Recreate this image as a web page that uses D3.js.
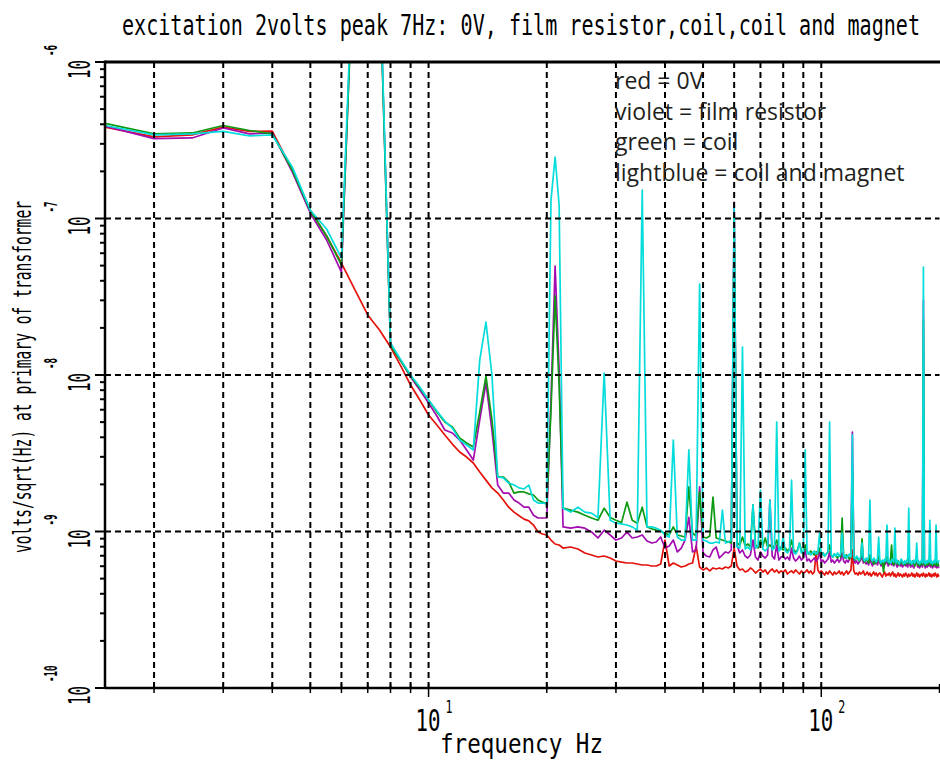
<!DOCTYPE html>
<html lang="en">
<head>
<meta charset="UTF-8">
<title>excitation 2volts peak 7Hz</title>
<style>
  body { margin: 0; padding: 0; overflow: hidden; background: #fff; }
  svg { display: block; }
</style>
</head>
<body>
<script src="https://d3js.org/d3.v7.min.js"></script>
<script>
// frequency bins (Hz): 0.5 Hz steps below 22 Hz, 1 Hz steps above
const freqHz = d3.range(1.5, 22, 0.5).concat(d3.range(22, 201, 1));

// volts/sqrt(Hz), one value per frequency bin
const red0V = [
  3.84e-7, 3.32e-7, 3.42e-7, 3.84e-7, 3.60e-7, 3.62e-7, 2.04e-7, 1.13e-7, 7.73e-8, 5.19e-8,
  3.49e-8, 2.42e-8, 1.94e-8, 1.51e-8, 1.14e-8, 8.63e-9, 6.92e-9, 5.55e-9,
  4.79e-9, 4.14e-9, 3.62e-9, 3.22e-9, 2.99e-9, 2.74e-9, 2.40e-9, 2.13e-9,
  1.90e-9, 1.76e-9, 1.59e-9, 1.43e-9, 1.33e-9, 1.26e-9, 1.20e-9, 1.17e-9,
  1.10e-9, 9.93e-10, 9.64e-10, 9.50e-10, 8.82e-10, 8.32e-10, 8.20e-10,
  // 22-60 Hz
  7.84e-10, 7.96e-10, 7.73e-10, 7.29e-10, 7.08e-10, 6.87e-10, 6.97e-10, 6.77e-10, 6.48e-10,
  6.38e-10, 6.29e-10, 6.29e-10, 6.20e-10, 6.11e-10, 6.11e-10, 6.02e-10, 6.02e-10, 6.20e-10, 8.82e-10,
  6.02e-10, 6.29e-10, 6.11e-10, 5.93e-10, 6.02e-10, 6.20e-10, 6.29e-10, 8.08e-10, 5.93e-10, 5.68e-10,
  5.85e-10, 5.60e-10, 5.85e-10, 5.76e-10, 5.85e-10, 5.76e-10, 5.93e-10, 5.85e-10, 6.02e-10, 7.84e-10,
  // 61-200 Hz
  6.02e-10, 5.68e-10, 5.76e-10, 5.51e-10, 5.60e-10, 5.85e-10, 5.68e-10, 5.43e-10, 5.60e-10, 5.76e-10,
  5.51e-10, 5.68e-10, 5.35e-10, 5.60e-10, 5.76e-10, 5.51e-10, 5.68e-10, 5.43e-10, 5.60e-10, 5.51e-10,
  5.68e-10, 5.35e-10, 5.51e-10, 5.60e-10, 5.43e-10, 5.68e-10, 5.51e-10, 5.35e-10, 5.60e-10, 5.43e-10,
  5.51e-10, 5.68e-10, 5.43e-10, 5.60e-10, 5.35e-10, 5.51e-10, 7.40e-10, 5.68e-10, 5.43e-10, 5.60e-10,
  5.43e-10, 5.27e-10, 5.51e-10, 5.35e-10, 5.60e-10, 5.43e-10, 5.27e-10, 5.51e-10, 5.35e-10, 5.43e-10,
  5.60e-10, 5.35e-10, 5.51e-10, 5.27e-10, 5.43e-10, 5.60e-10, 5.35e-10, 5.51e-10, 5.68e-10, 7.62e-10,
  5.60e-10, 5.35e-10, 5.43e-10, 5.27e-10, 5.51e-10, 5.35e-10, 5.43e-10, 5.60e-10, 5.27e-10, 5.35e-10,
  5.51e-10, 5.27e-10, 5.43e-10, 5.19e-10, 5.35e-10, 5.51e-10, 5.27e-10, 5.43e-10, 5.19e-10, 5.35e-10,
  5.43e-10, 5.27e-10, 5.12e-10, 5.35e-10, 5.51e-10, 5.19e-10, 5.35e-10, 5.27e-10, 5.43e-10, 5.19e-10,
  5.35e-10, 5.51e-10, 5.19e-10, 5.35e-10, 5.12e-10, 5.27e-10, 5.43e-10, 5.19e-10, 5.35e-10, 5.27e-10,
  5.12e-10, 5.35e-10, 5.19e-10, 5.43e-10, 5.27e-10, 5.12e-10, 5.35e-10, 5.19e-10, 5.27e-10, 5.43e-10,
  5.19e-10, 5.35e-10, 5.12e-10, 5.27e-10, 5.43e-10, 5.19e-10, 5.35e-10, 5.12e-10, 5.27e-10, 5.35e-10,
  5.19e-10, 5.43e-10, 5.27e-10, 5.12e-10, 5.35e-10, 5.19e-10, 5.27e-10, 5.43e-10, 5.19e-10, 5.35e-10,
  5.12e-10, 5.27e-10, 5.35e-10, 5.19e-10, 5.43e-10, 5.27e-10, 5.12e-10, 5.35e-10, 5.19e-10, 5.27e-10
];

const violetFilmResistor = [
  3.90e-7, 3.24e-7, 3.27e-7, 3.79e-7, 3.47e-7, 3.52e-7, 1.98e-7, 1.08e-7, 7.29e-8, 4.55e-8,
  9.0e-6, 2.5e-5, 4.0e-6, 1.55e-8, 1.23e-8, 9.71e-9, 8.02e-9, 6.62e-9,
  5.47e-9, 4.45e-9, 4.26e-9, 3.84e-9, 3.32e-9, 2.86e-9, 5.16e-9, 8.89e-9,
  4.45e-9, 1.98e-9, 1.76e-9, 1.76e-9, 1.59e-9, 1.52e-9, 1.43e-9, 1.43e-9,
  1.27e-9, 1.22e-9, 1.22e-9, 1.22e-9, 6.92e-9, 4.97e-8, 1.08e-8,
  // 22-60 Hz
  1.07e-9, 1.05e-9, 1.07e-9, 1.05e-9, 9.93e-10, 9.09e-10, 1.02e-9, 9.50e-10, 8.82e-10,
  9.09e-10, 9.93e-10, 9.09e-10, 9.22e-10, 9.50e-10, 8.70e-10, 8.44e-10, 8.57e-10, 9.22e-10, 7.84e-10,
  8.08e-10, 8.82e-10, 7.40e-10, 7.84e-10, 8.82e-10, 1.23e-9, 7.40e-10, 7.62e-10, 1.93e-9, 7.29e-10,
  6.97e-10, 6.87e-10, 7.62e-10, 7.96e-10, 6.77e-10, 7.08e-10, 7.40e-10, 7.29e-10, 7.62e-10, 1.27e-7,
  // 61-200 Hz
  8.20e-10, 7.29e-10, 7.62e-10, 6.97e-10, 6.77e-10, 7.08e-10, 8.82e-10, 6.87e-10, 6.57e-10, 7.40e-10,
  6.97e-10, 6.77e-10, 7.08e-10, 1.59e-9, 6.97e-10, 6.67e-10, 8.20e-10, 6.57e-10, 6.87e-10, 6.97e-10,
  6.67e-10, 6.87e-10, 6.57e-10, 7.84e-10, 6.77e-10, 6.48e-10, 6.67e-10, 6.97e-10, 6.57e-10, 6.77e-10,
  7.62e-10, 6.48e-10, 6.67e-10, 6.38e-10, 6.57e-10, 6.77e-10, 6.48e-10, 6.67e-10, 7.40e-10, 6.38e-10,
  6.57e-10, 6.29e-10, 6.48e-10, 6.67e-10, 7.40e-10, 6.38e-10, 6.57e-10, 6.29e-10, 6.48e-10, 6.67e-10,
  6.38e-10, 6.57e-10, 7.29e-10, 6.48e-10, 6.29e-10, 6.57e-10, 6.38e-10, 6.67e-10, 6.97e-10, 4.32e-9,
  6.57e-10, 6.29e-10, 6.48e-10, 6.20e-10, 6.38e-10, 6.57e-10, 6.97e-10, 6.29e-10, 6.48e-10, 6.20e-10,
  6.38e-10, 6.11e-10, 6.77e-10, 6.29e-10, 6.02e-10, 6.48e-10, 6.20e-10, 6.38e-10, 6.11e-10, 6.57e-10,
  6.29e-10, 6.02e-10, 6.20e-10, 6.38e-10, 6.11e-10, 6.29e-10, 6.57e-10, 6.02e-10, 6.20e-10, 6.38e-10,
  6.11e-10, 6.29e-10, 6.02e-10, 6.57e-10, 6.20e-10, 5.93e-10, 6.11e-10, 6.29e-10, 6.02e-10, 6.20e-10,
  5.93e-10, 6.11e-10, 6.29e-10, 6.02e-10, 6.20e-10, 5.93e-10, 6.57e-10, 6.11e-10, 5.93e-10, 6.20e-10,
  6.02e-10, 5.85e-10, 6.11e-10, 6.29e-10, 6.38e-10, 5.93e-10, 6.11e-10, 5.85e-10, 6.02e-10, 6.20e-10,
  5.93e-10, 3.01e-8, 6.11e-10, 5.85e-10, 6.02e-10, 5.93e-10, 6.20e-10, 6.02e-10, 6.57e-10, 5.93e-10,
  6.11e-10, 5.85e-10, 6.02e-10, 6.20e-10, 5.93e-10, 6.38e-10, 5.85e-10, 6.02e-10, 5.93e-10, 5.85e-10
];

const greenCoil = [
  4.05e-7, 3.47e-7, 3.52e-7, 3.93e-7, 3.65e-7, 3.47e-7, 2.04e-7, 1.12e-7, 7.73e-8, 5.04e-8,
  8.0e-6, 2.2e-5, 3.8e-6, 1.55e-8, 1.23e-8, 9.85e-9, 8.26e-9, 6.92e-9,
  5.80e-9, 5.01e-9, 4.65e-9, 3.96e-9, 3.68e-9, 3.47e-9, 5.80e-9, 9.85e-9,
  5.16e-9, 2.23e-9, 2.23e-9, 2.07e-9, 1.76e-9, 1.79e-9, 1.79e-9, 1.74e-9,
  1.71e-9, 1.59e-9, 1.54e-9, 1.50e-9, 5.97e-9, 3.20e-8, 8.63e-9,
  // 22-60 Hz
  1.41e-9, 1.37e-9, 1.33e-9, 1.27e-9, 1.22e-9, 1.18e-9, 1.41e-9, 1.23e-9, 1.18e-9,
  1.14e-9, 1.54e-9, 1.18e-9, 1.13e-9, 1.43e-9, 1.07e-9, 1.04e-9, 1.02e-9, 1.00e-9, 9.78e-10,
  9.50e-10, 1.07e-9, 9.50e-10, 9.36e-10, 9.22e-10, 1.93e-9, 9.78e-10, 9.36e-10, 1.79e-9, 9.22e-10,
  9.09e-10, 9.36e-10, 1.66e-9, 9.09e-10, 8.96e-10, 8.82e-10, 8.70e-10, 8.57e-10, 8.44e-10, 1.05e-7,
  // 61-200 Hz
  8.44e-10, 8.20e-10, 9.22e-10, 8.08e-10, 8.32e-10, 7.96e-10, 1.48e-9, 8.20e-10, 7.84e-10, 8.82e-10,
  8.08e-10, 9.09e-10, 7.96e-10, 8.20e-10, 7.84e-10, 8.08e-10, 8.82e-10, 7.73e-10, 7.96e-10, 7.62e-10,
  7.84e-10, 7.51e-10, 7.73e-10, 8.82e-10, 7.62e-10, 7.40e-10, 7.62e-10, 8.44e-10, 7.51e-10, 7.29e-10,
  8.20e-10, 7.40e-10, 7.18e-10, 7.51e-10, 7.29e-10, 7.08e-10, 7.40e-10, 7.18e-10, 7.84e-10, 7.08e-10,
  7.29e-10, 6.97e-10, 7.18e-10, 7.40e-10, 8.20e-10, 7.08e-10, 6.87e-10, 7.18e-10, 6.97e-10, 6.77e-10,
  7.08e-10, 6.87e-10, 1.22e-9, 6.97e-10, 6.77e-10, 7.08e-10, 6.87e-10, 6.67e-10, 6.97e-10, 2.47e-9,
  6.77e-10, 6.57e-10, 6.87e-10, 6.67e-10, 6.48e-10, 6.77e-10, 8.96e-10, 6.57e-10, 6.38e-10, 6.67e-10,
  6.48e-10, 6.29e-10, 7.08e-10, 6.57e-10, 6.38e-10, 6.20e-10, 6.48e-10, 6.29e-10, 6.57e-10, 6.97e-10,
  6.38e-10, 6.20e-10, 6.48e-10, 5.51e-10, 6.29e-10, 6.48e-10, 6.97e-10, 6.38e-10, 6.20e-10, 6.48e-10,
  8.20e-10, 6.29e-10, 6.11e-10, 6.77e-10, 6.38e-10, 6.20e-10, 6.48e-10, 6.11e-10, 6.29e-10, 6.57e-10,
  6.20e-10, 6.38e-10, 6.11e-10, 6.29e-10, 6.48e-10, 6.20e-10, 6.77e-10, 6.38e-10, 6.11e-10, 6.29e-10,
  6.48e-10, 6.20e-10, 6.02e-10, 6.38e-10, 7.08e-10, 6.11e-10, 6.29e-10, 6.02e-10, 6.20e-10, 6.38e-10,
  6.11e-10, 2.25e-8, 6.29e-10, 6.02e-10, 6.20e-10, 6.38e-10, 6.11e-10, 6.29e-10, 6.97e-10, 6.11e-10,
  6.29e-10, 6.02e-10, 6.20e-10, 6.38e-10, 6.11e-10, 6.77e-10, 6.02e-10, 6.29e-10, 6.11e-10, 6.02e-10
];

const cyanCoilMagnet = [
  3.93e-7, 3.42e-7, 3.47e-7, 3.60e-7, 3.37e-7, 3.42e-7, 2.13e-7, 1.13e-7, 8.57e-8, 5.59e-8,
  1.0e-5, 3.0e-5, 4.5e-6, 1.60e-8, 1.25e-8, 1.00e-8, 8.38e-9, 6.92e-9,
  5.89e-9, 5.08e-9, 4.58e-9, 3.84e-9, 3.57e-9, 3.32e-9, 1.25e-8, 2.18e-8,
  1.00e-8, 2.23e-9, 2.20e-9, 2.04e-9, 1.98e-9, 1.90e-9, 1.87e-9, 1.98e-9,
  1.59e-9, 1.52e-9, 1.52e-9, 1.50e-9, 1.31e-7, 2.47e-7, 1.22e-7,
  // 22-60 Hz
  1.41e-9, 1.33e-9, 1.43e-9, 1.33e-9, 1.31e-9, 1.23e-9, 1.03e-8, 1.18e-9, 1.13e-9,
  1.12e-9, 1.10e-9, 1.07e-9, 1.02e-9, 1.52e-7, 1.07e-9, 1.07e-9, 1.05e-9, 1.02e-9, 9.50e-10,
  9.22e-10, 3.84e-9, 9.22e-10, 8.82e-10, 8.82e-10, 3.32e-9, 8.82e-10, 8.82e-10, 3.81e-8, 8.82e-10,
  8.70e-10, 8.44e-10, 8.44e-10, 8.57e-10, 8.44e-10, 1.37e-9, 8.44e-10, 8.57e-10, 8.82e-10, 1.18e-7,
  // 61-200 Hz
  7.96e-10, 7.84e-10, 1.51e-8, 7.73e-10, 7.96e-10, 7.62e-10, 1.48e-9, 7.84e-10, 8.08e-10, 1.84e-9,
  7.73e-10, 7.51e-10, 7.84e-10, 1.59e-9, 7.62e-10, 7.84e-10, 5.01e-9, 7.51e-10, 7.73e-10, 9.22e-10,
  7.51e-10, 7.29e-10, 7.62e-10, 2.13e-9, 7.40e-10, 7.18e-10, 7.51e-10, 8.44e-10, 7.29e-10, 7.40e-10,
  3.32e-9, 7.18e-10, 7.40e-10, 7.08e-10, 7.29e-10, 7.51e-10, 7.18e-10, 7.40e-10, 9.78e-10, 7.08e-10,
  7.29e-10, 6.97e-10, 7.18e-10, 7.40e-10, 5.01e-9, 7.08e-10, 6.87e-10, 7.18e-10, 6.97e-10, 7.29e-10,
  6.97e-10, 7.18e-10, 9.78e-10, 6.87e-10, 7.08e-10, 6.77e-10, 6.97e-10, 7.18e-10, 6.87e-10, 4.14e-9,
  6.87e-10, 6.67e-10, 6.97e-10, 6.77e-10, 6.57e-10, 6.87e-10, 8.44e-10, 6.67e-10, 6.48e-10, 6.77e-10,
  6.57e-10, 6.87e-10, 1.59e-9, 6.67e-10, 6.48e-10, 6.77e-10, 6.57e-10, 6.38e-10, 6.67e-10, 9.22e-10,
  6.48e-10, 6.29e-10, 6.57e-10, 6.38e-10, 6.67e-10, 6.48e-10, 1.10e-9, 6.38e-10, 6.57e-10, 6.29e-10,
  6.48e-10, 6.67e-10, 6.38e-10, 1.05e-9, 6.29e-10, 6.57e-10, 6.38e-10, 6.20e-10, 6.48e-10, 6.67e-10,
  6.38e-10, 6.20e-10, 6.48e-10, 6.29e-10, 6.57e-10, 6.38e-10, 1.41e-9, 6.29e-10, 6.48e-10, 6.20e-10,
  6.38e-10, 6.57e-10, 6.29e-10, 6.48e-10, 8.44e-10, 6.29e-10, 6.48e-10, 6.20e-10, 6.38e-10, 6.57e-10,
  6.29e-10, 4.90e-8, 6.38e-10, 6.20e-10, 6.48e-10, 6.29e-10, 6.57e-10, 6.38e-10, 1.18e-9, 6.29e-10,
  6.48e-10, 6.20e-10, 6.38e-10, 6.57e-10, 6.29e-10, 1.10e-9, 6.48e-10, 6.29e-10, 6.38e-10, 6.57e-10
];

// axis decorations
const gridFreqs = [2, 3, 4, 5, 6, 7, 8, 9, 10, 20, 30, 40, 50, 60, 70, 80, 90, 100];
const decadeValues = [1e-10, 1e-9, 1e-8, 1e-7, 1e-6];
const decadeExponents = ["-10", "-9", "-8", "-7", "-6"];
const xMajorTicks = [10, 100];
const xMajorExponents = ["1", "2"];
const legendLines = ["red = 0V", "violet = film resistor", "green = coil", "lightblue = coil and magnet"];

const series = [
  { values: red0V, color: "#e3120b" },
  { values: violetFilmResistor, color: "#a30cb0" },
  { values: greenCoil, color: "#0d9a12" },
  { values: cyanCoilMagnet, color: "#05dcdc" }
];

const width = 940, height = 761;
const plot = { left: 105, right: 939.5, top: 62, bottom: 688 };
const monoFont = "'DejaVu Sans Mono', 'Liberation Mono', monospace";

const svg = d3.select("body").append("svg")
    .attr("width", width)
    .attr("height", height);

svg.append("rect").attr("width", width).attr("height", height).attr("fill", "#fff");

const x = d3.scaleLog().domain([1.5, 200]).range([plot.left, plot.right]);
const y = d3.scaleLog().domain([1e-10, 1e-6]).range([plot.bottom, plot.top]);

svg.append("clipPath").attr("id", "plot-clip")
  .append("rect")
    .attr("x", plot.left).attr("y", plot.top)
    .attr("width", plot.right - plot.left).attr("height", plot.bottom - plot.top);

// spectra
const line = d3.line()
    .x((d, i) => x(freqHz[i]))
    .y(d => y(d));

svg.append("g").attr("clip-path", "url(#plot-clip)")
  .selectAll("path")
  .data(series)
  .enter().append("path")
    .attr("d", d => line(d.values))
    .attr("fill", "none")
    .attr("stroke", d => d.color)
    .attr("stroke-width", 1.7)
    .attr("stroke-linejoin", "round");

// dashed grid on top of the traces
const grid = svg.append("g")
    .attr("stroke", "#000")
    .attr("stroke-width", 2)
    .attr("stroke-dasharray", "6,4");

grid.selectAll("line.v")
  .data(gridFreqs)
  .enter().append("line")
    .attr("x1", d => x(d)).attr("x2", d => x(d))
    .attr("y1", plot.top).attr("y2", plot.bottom);

grid.selectAll("line.h")
  .data(decadeValues.slice(1, 4))
  .enter().append("line")
    .attr("x1", plot.left).attr("x2", plot.right)
    .attr("y1", d => y(d)).attr("y2", d => y(d));

// frame
svg.append("line").attr("x1", plot.left).attr("x2", width).attr("y1", plot.top).attr("y2", plot.top)
    .attr("stroke", "#000").attr("stroke-width", 3);
svg.append("line").attr("x1", plot.left).attr("x2", width).attr("y1", plot.bottom).attr("y2", plot.bottom)
    .attr("stroke", "#000").attr("stroke-width", 2.5);
svg.append("line").attr("x1", plot.left).attr("x2", plot.left).attr("y1", plot.top - 1.5).attr("y2", plot.bottom)
    .attr("stroke", "#000").attr("stroke-width", 2.5);

// y ticks (outside, log minor ticks)
const yTicks = [];
decadeValues.forEach((v, k) => {
  yTicks.push({ v: v, major: true });
  if (k < decadeValues.length - 1) d3.range(2, 10).forEach(m => yTicks.push({ v: v * m, major: false }));
});
svg.append("g").selectAll("line")
  .data(yTicks)
  .enter().append("line")
    .attr("x1", d => d.major ? plot.left - 10 : plot.left - 5)
    .attr("x2", plot.left)
    .attr("y1", d => y(d.v)).attr("y2", d => y(d.v))
    .attr("stroke", "#000").attr("stroke-width", 2);

// x ticks (crossing the bottom axis)
const xTicks = [];
[1, 10, 100].forEach(dec => d3.range(1, 10).forEach(m => {
  const f = dec * m;
  if (f >= 1.5 && f <= 200) xTicks.push({ f: f, major: m === 1 });
}));
svg.append("g").selectAll("line")
  .data(xTicks)
  .enter().append("line")
    .attr("x1", d => x(d.f)).attr("x2", d => x(d.f))
    .attr("y1", plot.bottom - 4)
    .attr("y2", d => d.major ? plot.bottom + 9 : plot.bottom + 5)
    .attr("stroke", "#000").attr("stroke-width", 1.5);

// x tick labels 10^1, 10^2
const xLab = svg.append("g").attr("font-family", monoFont).attr("fill", "#000");
xMajorTicks.forEach((f, i) => {
  xLab.append("text")
      .attr("x", x(f) - 13).attr("y", 731)
      .attr("font-size", 30)
      .attr("textLength", 25).attr("lengthAdjust", "spacingAndGlyphs")
      .text("10");
  xLab.append("text")
      .attr("x", x(f) + 17).attr("y", 713)
      .attr("font-size", 17)
      .attr("textLength", 7).attr("lengthAdjust", "spacingAndGlyphs")
      .text(xMajorExponents[i]);
});

// y tick labels, rotated
const yLab = svg.append("g").attr("font-family", monoFont).attr("fill", "#000");
decadeValues.forEach((v, i) => {
  const g = yLab.append("g").attr("transform", `translate(90,${y(v) - 2}) rotate(-90)`);
  g.append("text")
      .attr("x", 0).attr("y", 0)
      .attr("text-anchor", "end")
      .attr("font-size", 30)
      .attr("textLength", 19).attr("lengthAdjust", "spacingAndGlyphs")
      .text("10");
  const ex = decadeExponents[i];
  g.append("text")
      .attr("x", 4).attr("y", -33)
      .attr("font-size", 17)
      .attr("font-weight", "bold")
      .attr("textLength", ex.length * 5.5).attr("lengthAdjust", "spacingAndGlyphs")
      .text(ex);
});

// titles
svg.append("text")
    .attr("x", 122).attr("y", 35)
    .attr("font-family", monoFont).attr("font-size", 28)
    .attr("textLength", 798).attr("lengthAdjust", "spacingAndGlyphs")
    .text("excitation 2volts peak 7Hz: 0V, film resistor,coil,coil and magnet");

svg.append("text")
    .attr("x", 440).attr("y", 753)
    .attr("font-family", monoFont).attr("font-size", 27)
    .attr("textLength", 163).attr("lengthAdjust", "spacingAndGlyphs")
    .text("frequency Hz");

svg.append("text")
    .attr("transform", "translate(31,553) rotate(-90)")
    .attr("font-family", monoFont).attr("font-size", 25)
    .attr("textLength", 352).attr("lengthAdjust", "spacingAndGlyphs")
    .text("volts/sqrt(Hz) at primary of transformer");

// legend text (no swatches in the original)
svg.append("g")
    .attr("font-family", "'Open Sans', 'Noto Sans', sans-serif")
    .attr("font-size", 23)
    .attr("fill", "#231f20")
  .selectAll("text")
  .data(legendLines)
  .enter().append("text")
    .attr("x", 615)
    .attr("y", (d, i) => 89 + i * 30.5)
    .text(d => d);
</script>
</body>
</html>
